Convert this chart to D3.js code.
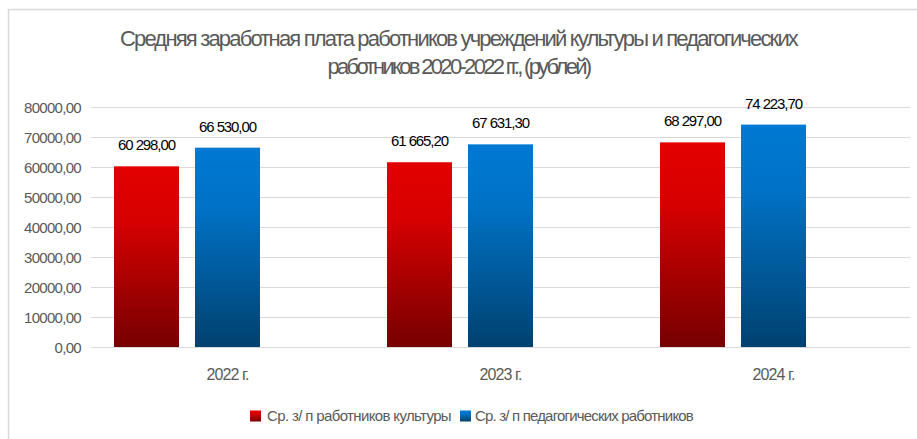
<!DOCTYPE html>
<html>
<head>
<meta charset="utf-8">
<script src="https://cdn.jsdelivr.net/npm/d3@7"></script>
<style>
  html, body { margin: 0; padding: 0; background: #fff; }
  svg { display: block; }
  text { font-family: "Liberation Sans", Arial, sans-serif; }
</style>
</head>
<body>
<svg id="chart" width="917" height="439"></svg>
<script>
const categories = ["2022 г.", "2023 г.", "2024 г."];
const seriesNames = ["Ср. з/ п работников культуры", "Ср. з/ п педагогических работников"];
const cultureValues = [60298.00, 61665.20, 68297.00];
const teacherValues = [66530.00, 67631.30, 74223.70];
const yTicks = [0, 10000, 20000, 30000, 40000, 50000, 60000, 70000, 80000];
const titleLines = ["Средняя заработная плата работников учреждений культуры и педагогических", "работников 2020-2022 гг., (рублей)"];

const svg = d3.select("#chart");
const W = 917, H = 439;
const plot = { left: 91, right: 910, top: 107.3, bottom: 347 };

// chart border
svg.append("rect").attr("x", 8.5).attr("y", 9.5).attr("width", W + 10).attr("height", H + 10)
  .attr("fill", "#fff").attr("stroke", "#d9d9d9").attr("stroke-width", 1.5);

// gradients
const defs = svg.append("defs");
function grad(id, stops) {
  const g = defs.append("linearGradient").attr("id", id)
    .attr("x1", 0).attr("y1", 0).attr("x2", 0).attr("y2", 1);
  stops.forEach(s => g.append("stop").attr("offset", s[0]).attr("stop-color", s[1]));
}
grad("gRed", [[0, "#e30000"], [0.3, "#d70000"], [1, "#760000"]]);
grad("gBlue", [[0, "#0079d3"], [0.3, "#0072c6"], [1, "#00416f"]]);
const fills = ["url(#gRed)", "url(#gBlue)"];

// fit a text to a target width by adjusting letter-spacing only
function fitSpacing(sel, target) {
  sel.each(function(d, i) {
    const t = typeof target === "function" ? target(d, i) : target;
    const el = d3.select(this);
    el.attr("letter-spacing", 0);
    const n = this.getNumberOfChars();
    const w = this.getComputedTextLength();
    el.attr("letter-spacing", ((t - w) / n).toFixed(3));
  });
}

const y = d3.scaleLinear().domain([0, 80000]).range([plot.bottom, plot.top]);
const x0 = d3.scaleBand().domain(categories).range([plot.left, plot.right]).paddingInner(0).paddingOuter(0);
// Excel cluster leaves space for three slots; only two series have data
const x1 = d3.scaleBand().domain([0, 1, 2]).range([0, x0.bandwidth()]).paddingInner(16 / 81).paddingOuter(0.284);

// gridlines
svg.append("g").selectAll("line").data(yTicks).join("line")
  .attr("x1", plot.left).attr("x2", plot.right)
  .attr("y1", d => Math.round(y(d)) + 0.5).attr("y2", d => Math.round(y(d)) + 0.5)
  .attr("stroke", "#d9d9d9").attr("stroke-width", 1.2);

// y axis labels
const fmtTick = d => d3.format(".2f")(d).replace(".", ",");
const yAxis = d3.axisLeft(y).tickValues(yTicks).tickSize(0).tickPadding(0).tickFormat(fmtTick);
const ya = svg.append("g").attr("transform", `translate(81,0)`).call(yAxis);
ya.select(".domain").remove();
ya.selectAll("text").attr("fill", "#595959").attr("font-size", 15).attr("letter-spacing", -0.7)
  .attr("font-family", '"Liberation Sans", Arial, sans-serif').attr("dy", "0.35em");

// x axis labels
const xAxis = d3.axisBottom(x0).tickSize(0).tickPadding(0);
const xa = svg.append("g").attr("transform", `translate(0,${plot.bottom})`).call(xAxis);
xa.select(".domain").remove();
xa.selectAll("text").attr("fill", "#595959").attr("font-size", 16).attr("letter-spacing", -0.9)
  .attr("font-family", '"Liberation Sans", Arial, sans-serif').attr("dy", 0).attr("y", 33);

// bars
const series = [cultureValues, teacherValues];
const fmtVal = v => {
  const [i, f] = d3.format(".2f")(v).split(".");
  return i.replace(/\B(?=(\d{3})+(?!\d))/g, " ") + "," + f;
};
series.forEach((vals, si) => {
  const g = svg.append("g");
  g.selectAll("rect").data(vals).join("rect")
    .attr("x", (d, i) => x0(categories[i]) + x1(si))
    .attr("width", x1.bandwidth())
    .attr("y", d => y(d))
    .attr("height", d => y(0) - y(d))
    .attr("fill", fills[si]);
  g.selectAll("text").data(vals).join("text")
    .attr("x", (d, i) => x0(categories[i]) + x1(si) + x1.bandwidth() / 2)
    .attr("y", d => y(d) - 16)
    .attr("text-anchor", "middle")
    .attr("font-size", 15).attr("letter-spacing", -1.1)
    .attr("fill", "#000")
    .text(d => fmtVal(d));
});

// title
const titleWidths = [677, 262];
const tt = svg.append("g").selectAll("text").data(titleLines).join("text")
  .attr("x", W / 2).attr("y", (d, i) => 46 + i * 28)
  .attr("text-anchor", "middle").attr("font-size", 22).attr("fill", "#595959")
  .text(d => d);
fitSpacing(tt, (d, i) => titleWidths[i]);

// legend
const legendItems = [
  { name: seriesNames[0], fill: fills[0], sx: 250, tx: 267, w: 184 },
  { name: seriesNames[1], fill: fills[1], sx: 460, tx: 475, w: 218 }
];
const lg = svg.append("g");
legendItems.forEach(it => {
  lg.append("rect").attr("x", it.sx).attr("y", 410.5).attr("width", 11).attr("height", 11).attr("fill", it.fill);
  const t = lg.append("text").attr("x", it.tx).attr("y", 421).attr("font-size", 15).attr("fill", "#595959")
    .text(it.name);
  fitSpacing(t, it.w);
});
</script>
</body>
</html>
